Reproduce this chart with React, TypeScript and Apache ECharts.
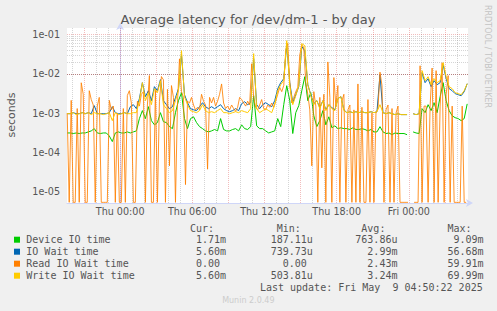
import React, { useEffect, useRef } from 'react';
import * as echarts from 'echarts';

// ---- data (hours relative to Thu 00:00) ----
const X_MIN = -4.4167;
const X_MAX = 28.9167;
const Y_MIN = 5.09e-6;
const Y_MAX = 0.1466;

const START_H = -4.4;
const STEP_MAIN = 0.25; // 15 min
const STEP_READ = 1 / 6; // 10 min

const xLabelHours = [0, 6, 12, 18, 24];

const deviceVals = [
  0.00031, 0.00031, 0.0003, 0.00031, 0.0003, 0.00031, 0.00031, 0.00033, 0.00035, 0.0004,
  0.00031, 0.0003, 0.00031, 0.00031, 0.00026, 0.000187, 0.00031, 0.00033, 0.00031, 0.00031,
  0.00033, 0.00031, 0.00033, 0.00035, 0.00072, 0.00115, 0.00072, 0.00145, 0.00064, 0.0005,
  0.00057, 0.00102, 0.0006, 0.00057, 0.00045, 0.0004, 0.00102, 0.00206, 0.0033, 0.00072,
  0.0004, 0.00072, 0.0008, 0.00057, 0.00045, 0.0004, 0.00035, 0.00033, 0.00035, 0.00038,
  0.00035, 0.00072, 0.00038, 0.00035, 0.00035, 0.00038, 0.0004, 0.00035, 0.0005, 0.0004,
  0.00038, 0.00045, 0.00276, 0.00047, 0.0004, 0.0004, 0.00035, 0.00031, 0.00033, 0.00035,
  0.00072, 0.00045, 0.00163, 0.00497, 0.00206, 0.0003, 0.00102, 0.00154, 0.00371, 0.00843,
  0.00206, 0.0033, 0.00085, 0.00045, 0.00064, 0.00115, 0.0005, 0.0008, 0.00042, 0.00047,
  0.0004, 0.00042, 0.0004, 0.0004, 0.00038, 0.00042, 0.00038, 0.00038, 0.0004, 0.00038,
  0.00035, 0.00038, 0.00033, 0.00033, 0.00045, 0.00033, 0.0003, 0.00031, 0.00028, 0.00031,
  0.0003, 0.0003, 0.0003, 0.00028, null, 0.00033, 0.00031, 0.0003, 0.00129, 0.00102,
  0.00163, 0.00115, 0.00183, 0.00102, 0.00261, 0.00593, 0.00206, 0.00115, 0.00085, 0.00076,
  0.00072, 0.00064, 0.00072, 0.00171,
];

const ioWaitVals = [
  0.00096, 0.00096, 0.00102, 0.00096, 0.00096, 0.00102, 0.00096, 0.00102, 0.00096, 0.00154,
  0.00096, 0.00096, 0.00096, 0.00096, 0.00102, 0.00145, 0.00102, 0.00096, 0.00096, 0.00102,
  0.00096, 0.00145, 0.00163, 0.00129, 0.00232, 0.00593, 0.00261, 0.00371, 0.00206, 0.00469,
  0.00371, 0.00707, 0.00206, 0.00163, 0.00129, 0.00145, 0.00246, 0.00417, 0.0307, 0.00293,
  0.00183, 0.00129, 0.00121, 0.00115, 0.00145, 0.00183, 0.00145, 0.00129, 0.00145, 0.00129,
  0.00145, 0.00163, 0.00129, 0.00115, 0.00108, 0.00115, 0.00129, 0.00115, 0.00173, 0.00194,
  0.00163, 0.00183, 0.0243, 0.00163, 0.00129, 0.00163, 0.00183, 0.00163, 0.00145, 0.00206,
  0.00417, 0.00593, 0.0075, 0.0567, 0.00593, 0.00183, 0.00293, 0.00469, 0.0491, 0.0388,
  0.00527, 0.00293, 0.00173, 0.00206, 0.00137, 0.00206, 0.00121, 0.00163, 0.00137, 0.00121,
  0.00232, 0.00261, 0.00121, 0.00102, 0.00108, 0.00102, 0.00108, 0.00102, 0.00108, 0.00102,
  0.00102, 0.00108, 0.00102, 0.00108, 0.00948, 0.00102, 0.00096, 0.00102, 0.00096, 0.00091,
  0.00096, 0.00091, 0.00091, 0.00091, null, 0.00096, 0.00091, 0.00096, 0.0107, 0.00593,
  0.0075, 0.00469, 0.00667, 0.00527, 0.00593, 0.0171, 0.0075, 0.00417, 0.00371, 0.00311,
  0.00293, 0.00276, 0.00349, 0.00559,
];

const readVals = [
  0.001, 0, 0.0021, 0, 0, 0.0013, 0, 0.0059, 0.003, 0,
  0, 0.0037, 0.0022, 0.0016, 0, 0.0015, 0.0025, 0, 0, 0,
  0, 0.0021, 0.0012, 0.0015, 0, 0.001, 0, 0, 0.0013, 0,
  0.0028, 0.0037, 0.0018, 0, 0, 0.002, 0.0015, 0.003, 0.0035, 0,
  0.0016, 0.009, 0, 0, 0.004, 0, 0.002, 0.0085, 0.007, 0,
  0.004, 0.000045, 0.005, 0.0025, 0, 0.0018, 0.024, 0.0035, 0.0025, 0.000015,
  0.002, 0.0018, 0.0025, 0.0016, 0.0012, 0.0014, 0.0012, 0.003, 0.002, 0.0016,
  0.000037, 0.0025, 0.0018, 0.0025, 0.0015, 0.002, 0.003, 0.0055, 0.0018, 0.0013,
  0.0015, 0.0012, 0.0016, 0.0013, 0.0011, 0.0014, 0.0025, 0.0022, 0.0018, 0.0015,
  0.002, 0.0016, 0.018, 0.0025, 0.0014, 0.0012, 0.0016, 0.0022, 0.0013, 0.0012,
  0.0016, 0.0014, 0.0018, 0.0014, 0.002, 0.003, 0.0045, 0.0035, 0.005, 0.04,
  0.0599, 0.006, 0.0018, 0.0025, 0.0035, 0.0045, 0.03, 0.055, 0.045, 0.006,
  0.003, 0.0012, 0.000045, 0.0035, 0.0015, 0, 0.0025, 0.00004, 0.003, 0,
  0.02, 0.0025, 0, 0.008, 0.0015, 0.005, 0, 0.002, 0.003, 0,
  0.0012, 0.0016, 0, 0.0012, 0, 0.0055, 0, 0.0014, 0, 0,
  0.0022, 0, 0.001, 0, 0.001, 0.0013, 0.011, 0.005, 0, 0.0012,
  0.0016, 0, 0.0013, 0, 0.001, 0.0015, 0, 0, 0, 0,
  0, null, null, 0, 0, 0, 0.016, 0, 0.0015, 0.0015,
  0, 0.0015, 0.014, 0, 0.012, 0, 0.0015, 0.019, 0, 0.003,
  0.009, 0, 0.0015, 0, 0, 0, 0, 0.0015, 0, 0,
];

const writeVals = [
  0.00096, 0.00096, 0.00102, 0.00091, 0.00096, 0.00102, 0.00096, 0.00102, 0.00091, 0.00102,
  0.00096, 0.00096, 0.00091, 0.00096, 0.00102, 0.00064, 0.00102, 0.00091, 0.00096, 0.00102,
  0.00096, 0.00096, 0.00102, 0.00102, 0.00206, 0.00593, 0.00206, 0.0033, 0.00163, 0.00417,
  0.0033, 0.00667, 0.00163, 0.00129, 0.00102, 0.00115, 0.00206, 0.00371, 0.0388, 0.00261,
  0.00163, 0.00115, 0.00108, 0.00102, 0.00115, 0.00163, 0.00115, 0.00102, 0.00108, 0.00102,
  0.00115, 0.00129, 0.00102, 0.00102, 0.00096, 0.00102, 0.00108, 0.00102, 0.00115, 0.00108,
  0.00102, 0.00129, 0.0326, 0.00129, 0.00102, 0.00115, 0.00129, 0.00115, 0.00102, 0.00163,
  0.00371, 0.00527, 0.00667, 0.0699, 0.00497, 0.00163, 0.00276, 0.00497, 0.0586, 0.0521,
  0.00527, 0.00276, 0.00163, 0.00206, 0.00129, 0.00206, 0.00115, 0.00163, 0.00129, 0.00115,
  0.00232, 0.00261, 0.00115, 0.00102, 0.00108, 0.00102, 0.00108, 0.00102, 0.00108, 0.00102,
  0.00102, 0.00108, 0.00102, 0.00108, 0.00163, 0.00102, 0.00096, 0.00102, 0.00096, 0.00091,
  0.00096, 0.00091, 0.00091, 0.00091, null, 0.00096, 0.00091, 0.00096, 0.012, 0.00667,
  0.00843, 0.00527, 0.0075, 0.00593, 0.00667, 0.0192, 0.00843, 0.00469, 0.00417, 0.0033,
  0.00311, 0.00293, 0.00371, 0.00559,
];

const seriesNames = ['Device IO time', 'IO Wait time', 'Read IO Wait time', 'Write IO Wait time'];
const seriesColors = ['#00CC00', '#0066B3', '#FF8000', '#FFCC00'];
const curVals = ['1.71m', '5.60m', '0.00', '5.60m'];
const minVals = ['187.11u', '739.73u', '0.00', '503.81u'];
const avgVals = ['763.86u', '2.99m', '2.43m', '3.24m'];
const maxVals = ['9.09m', '56.68m', '59.91m', '69.99m'];
const colHeaders = ['Cur:', 'Min:', 'Avg:', 'Max:'];

const TITLE = 'Average latency for /dev/dm-1 - by day';
const LAST_UPDATE = 'Last update: Fri May\u00a0\u00a09 04:50:22 2025';

// ---- helpers ----
const toPairs = (vals: (number | null)[], step: number, floorZero: boolean) =>
  vals.map((v, i) => {
    const t = START_H + i * step;
    if (v === null) return [t, null];
    if (floorZero && v === 0) return [t, Y_MIN * 1.04];
    return [t, v];
  });

const fmtHour = (h: number) => {
  const day = h < 24 ? 'Thu' : 'Fri';
  const hh = ((Math.round(h) % 24) + 24) % 24;
  return `${day} ${String(hh).padStart(2, '0')}:00`;
};

const TEXT = '#555555';
const MONO = '"DejaVu Sans Mono", monospace';
const SANS = '"DejaVu Sans", sans-serif';
const CW = 6.02;

function buildOption() {
  const minorY: any[] = [];
  const majorY: any[] = [];
  for (let e = -6; e <= -1; e++) {
    for (let m = 1; m <= 9; m++) {
      const v = m * Math.pow(10, e);
      if (v <= Y_MIN || v >= Y_MAX) continue;
      if (m === 1) majorY.push({ yAxis: v });
      else minorY.push({ yAxis: v });
    }
  }
  const minorX: any[] = [];
  const majorX: any[] = [];
  for (let h = -4; h <= 28; h++) {
    if (h % 3 === 0) majorX.push({ xAxis: h });
    else minorX.push({ xAxis: h });
  }
  const minorStyle = { color: 'rgba(150,150,150,0.4)', width: 1, type: [1, 1] as any };
  const majorStyle = { color: 'rgba(222,79,79,0.38)', width: 1, type: [1, 1] as any };
  const gridSeries = (data: any[], style: any, z: number) => ({
    type: 'line',
    data: [],
    z,
    silent: true,
    markLine: {
      silent: true,
      symbol: ['none', 'none'],
      label: { show: false },
      lineStyle: style,
      emphasis: { disabled: true },
      data,
      animation: false,
    },
  });

  const pairs = [
    toPairs(deviceVals, STEP_MAIN, false),
    toPairs(ioWaitVals, STEP_MAIN, false),
    toPairs(readVals, STEP_READ, true),
    toPairs(writeVals, STEP_MAIN, false),
  ];

  const dataSeries = pairs.map((d, k) => ({
    name: seriesNames[k],
    type: 'line',
    data: d,
    showSymbol: false,
    symbol: 'none',
    connectNulls: false,
    clip: true,
    z: 3 + k,
    lineStyle: { color: seriesColors[k], width: 1, opacity: k === 2 ? 0.85 : 1 },
    itemStyle: { color: seriesColors[k] },
    emphasis: { disabled: true },
  }));

  const g: any[] = [];
  g.push({
    type: 'text', x: 248, y: 19,
    style: { text: TITLE, font: `13px ${SANS}`, fill: TEXT, textAlign: 'center', textVerticalAlign: 'middle' },
  });
  g.push({
    type: 'text', x: 11, y: 115, rotation: Math.PI / 2,
    style: { text: 'seconds', font: `11px ${SANS}`, fill: TEXT, textAlign: 'center', textVerticalAlign: 'middle' },
  });
  g.push({
    type: 'text', x: 487.5, y: 5, rotation: -Math.PI / 2,
    style: { text: 'RRDTOOL / TOBI OETIKER', font: `8px ${SANS}`, fill: '#c4c4c4', textAlign: 'left', textVerticalAlign: 'middle' },
  });
  const colStarts = [184, 270.7, 355.3, 441.5];
  colHeaders.forEach((h, c) => {
    g.push({
      type: 'text', x: colStarts[c] + CW, y: 228.3,
      style: { text: h, font: `10px ${MONO}`, fill: TEXT, textAlign: 'left', textVerticalAlign: 'middle' },
    });
  });
  const cols = [curVals, minVals, avgVals, maxVals];
  const rowY = [239.7, 251.7, 263.7, 275.7];
  seriesNames.forEach((name, r) => {
    g.push({ type: 'rect', shape: { x: 14, y: rowY[r] - 3, width: 6, height: 6 }, style: { fill: seriesColors[r] } });
    g.push({
      type: 'text', x: 26.3, y: rowY[r],
      style: { text: name, font: `10px ${MONO}`, fill: TEXT, textAlign: 'left', textVerticalAlign: 'middle' },
    });
    cols.forEach((col, c) => {
      const s = col[r];
      const num = s.replace(/[a-zA-Z]$/, '');
      g.push({
        type: 'text', x: colStarts[c] + (6 - num.length) * CW, y: rowY[r],
        style: { text: s, font: `10px ${MONO}`, fill: TEXT, textAlign: 'left', textVerticalAlign: 'middle' },
      });
    });
  });
  g.push({
    type: 'text', x: 482.7, y: 287.3,
    style: { text: LAST_UPDATE, font: `10px ${MONO}`, fill: TEXT, textAlign: 'right', textVerticalAlign: 'middle' },
  });
  g.push({
    type: 'text', x: 248.3, y: 300,
    style: { text: 'Munin 2.0.49', font: `8px ${SANS}`, fill: '#cccccc', textAlign: 'center', textVerticalAlign: 'middle' },
  });

  return {
    animation: false,
    backgroundColor: '#F0F0F0',
    grid: { left: 67, top: 28, width: 401, height: 175, show: true, backgroundColor: '#FFFFFF', borderWidth: 0 },
    xAxis: {
      type: 'value',
      min: X_MIN,
      max: X_MAX,
      splitLine: { show: false },
      axisTick: { show: false },
      axisLine: {
        show: true,
        lineStyle: { color: '#CFD6F8', width: 1 },
        symbol: ['none', 'arrow'],
        symbolSize: [6, 7],
        symbolOffset: [0, 5],
      },
      axisLabel: {
        show: true,
        customValues: xLabelHours,
        formatter: (v: number) => fmtHour(v),
        color: TEXT,
        fontFamily: SANS,
        fontSize: 9.6,
        margin: 3,
      },
    },
    yAxis: {
      type: 'log',
      logBase: 10,
      min: Y_MIN,
      max: Y_MAX,
      splitLine: { show: false },
      minorSplitLine: { show: false },
      axisTick: { show: false },
      axisLine: {
        show: true,
        lineStyle: { color: '#CFD6F8', width: 1 },
        symbol: ['none', 'arrow'],
        symbolSize: [6, 7],
        symbolOffset: [0, 5],
      },
      axisLabel: {
        color: TEXT,
        fontFamily: SANS,
        fontSize: 9.6,
        margin: 7,
        formatter: (v: number) => {
          const l = Math.log10(v);
          const r = Math.round(l);
          if (Math.abs(l - r) > 1e-6) return '';
          const a = Math.abs(r);
          return `1e${r < 0 ? '-' : '+'}${String(a).padStart(2, '0')}`;
        },
      },
    },
    graphic: g,
    series: [
      gridSeries(minorY.concat(minorX), minorStyle, 1),
      gridSeries(majorY.concat(majorX), majorStyle, 2),
      ...dataSeries,
    ],
  };
}

export default function App() {
  const ref = useRef<HTMLDivElement>(null);
  useEffect(() => {
    if (!ref.current) return;
    const chart = echarts.init(ref.current, null, { renderer: 'svg' });
    chart.setOption(buildOption() as any);
    return () => chart.dispose();
  }, []);
  return <div ref={ref} style={{ position: 'fixed', left: 0, top: 0, width: 497, height: 311 }} />;
}
